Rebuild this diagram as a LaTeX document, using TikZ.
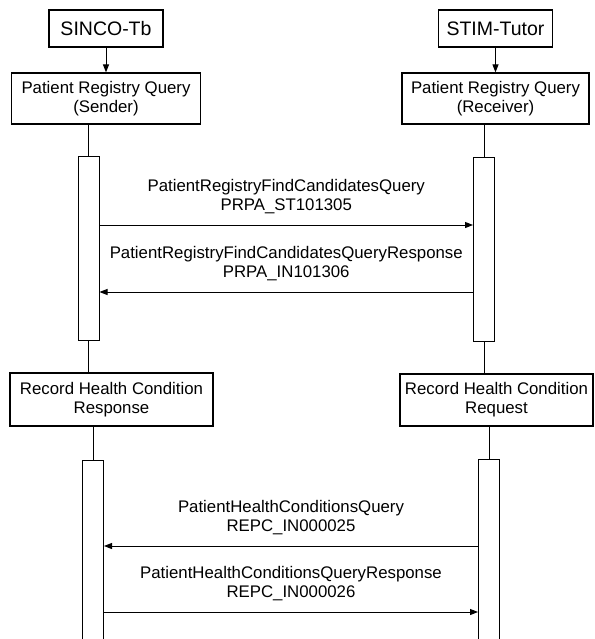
\documentclass[tikz,border=0pt]{standalone}
\usepackage{fontspec}
\setmainfont{Liberation Sans}
\usetikzlibrary{arrows.meta}

\begin{document}
\begin{tikzpicture}[x=1pt, y=-1pt,
  every node/.style={font=\fontsize{16.8}{19}\selectfont, align=center},
  box/.style={draw, line width=1.2pt, inner sep=0pt},
  sysbox/.style={box, line width=1.4pt, minimum width=114pt, minimum height=37pt, font=\fontsize{19.5}{22}\selectfont},
  act/.style={draw, line width=1pt, fill=white, minimum width=21pt, inner sep=0pt},
  life/.style={line width=1pt},
  msg/.style={line width=1pt, -{Triangle[length=8pt,width=6pt]}},
  lbl/.style={above=10.5pt, inner sep=0pt}]
\useasboundingbox (0,0) rectangle (594,639);
% SYSTEMS
\node[sysbox] (sinco) at (106,28.5) {SINCO-Tb};
\node[sysbox] (stim) at (495.5,28.5) {STIM-Tutor};
% ROLES
\node[box, minimum width=189pt, minimum height=51pt] (snd) at (106,98.5) {Patient Registry Query\\(Sender)};
\node[box, minimum width=187pt, minimum height=51pt] (rcv) at (495.5,98.5) {Patient Registry Query\\(Receiver)};
\node[box, minimum width=203pt, minimum height=53pt] (rsp) at (111.5,399.5) {Record Health Condition\\Response};
\node[box, minimum width=193pt, minimum height=52pt] (req) at (496.5,400) {Record Health Condition\\Request};
\draw[msg] (sinco) -- (snd);
\draw[msg] (stim) -- (rcv);
% ACTIVATIONS
\node[act, minimum height=183pt] (a1) at (88.5,248.5) {};
\node[act, minimum height=183pt] (b1) at (484,249.5) {};
\node[act, minimum height=190pt] (a2) at (93,555) {};
\node[act, minimum height=191pt] (b2) at (489,554.5) {};
\draw[life] (a1.north |- snd.south) -- (a1.north);
\draw[life] (b1.north |- rcv.south) -- (b1.north);
\draw[life] (a1.south) -- (a1.south |- rsp.north);
\draw[life] (b1.south) -- (b1.south |- req.north);
\draw[life] (a2.north |- rsp.south) -- (a2.north);
\draw[life] (b2.north |- req.south) -- (b2.north);
% MESSAGES
\coordinate (m1) at (0,225);
\coordinate (m2) at (0,292);
\coordinate (m3) at (0,546);
\coordinate (m4) at (0,612);
\draw[msg] (m1 -| a1.east) -- node[lbl] {PatientRegistryFindCandidatesQuery\\PRPA\_ST101305} (m1 -| b1.west);
\draw[msg] (m2 -| b1.west) -- node[lbl] {PatientRegistryFindCandidatesQueryResponse\\PRPA\_IN101306} (m2 -| a1.east);
\draw[msg] (m3 -| b2.west) -- node[lbl] {PatientHealthConditionsQuery\\REPC\_IN000025} (m3 -| a2.east);
\draw[msg] (m4 -| a2.east) -- node[lbl] {PatientHealthConditionsQueryResponse\\REPC\_IN000026} (m4 -| b2.west);
\end{tikzpicture}
\end{document}
